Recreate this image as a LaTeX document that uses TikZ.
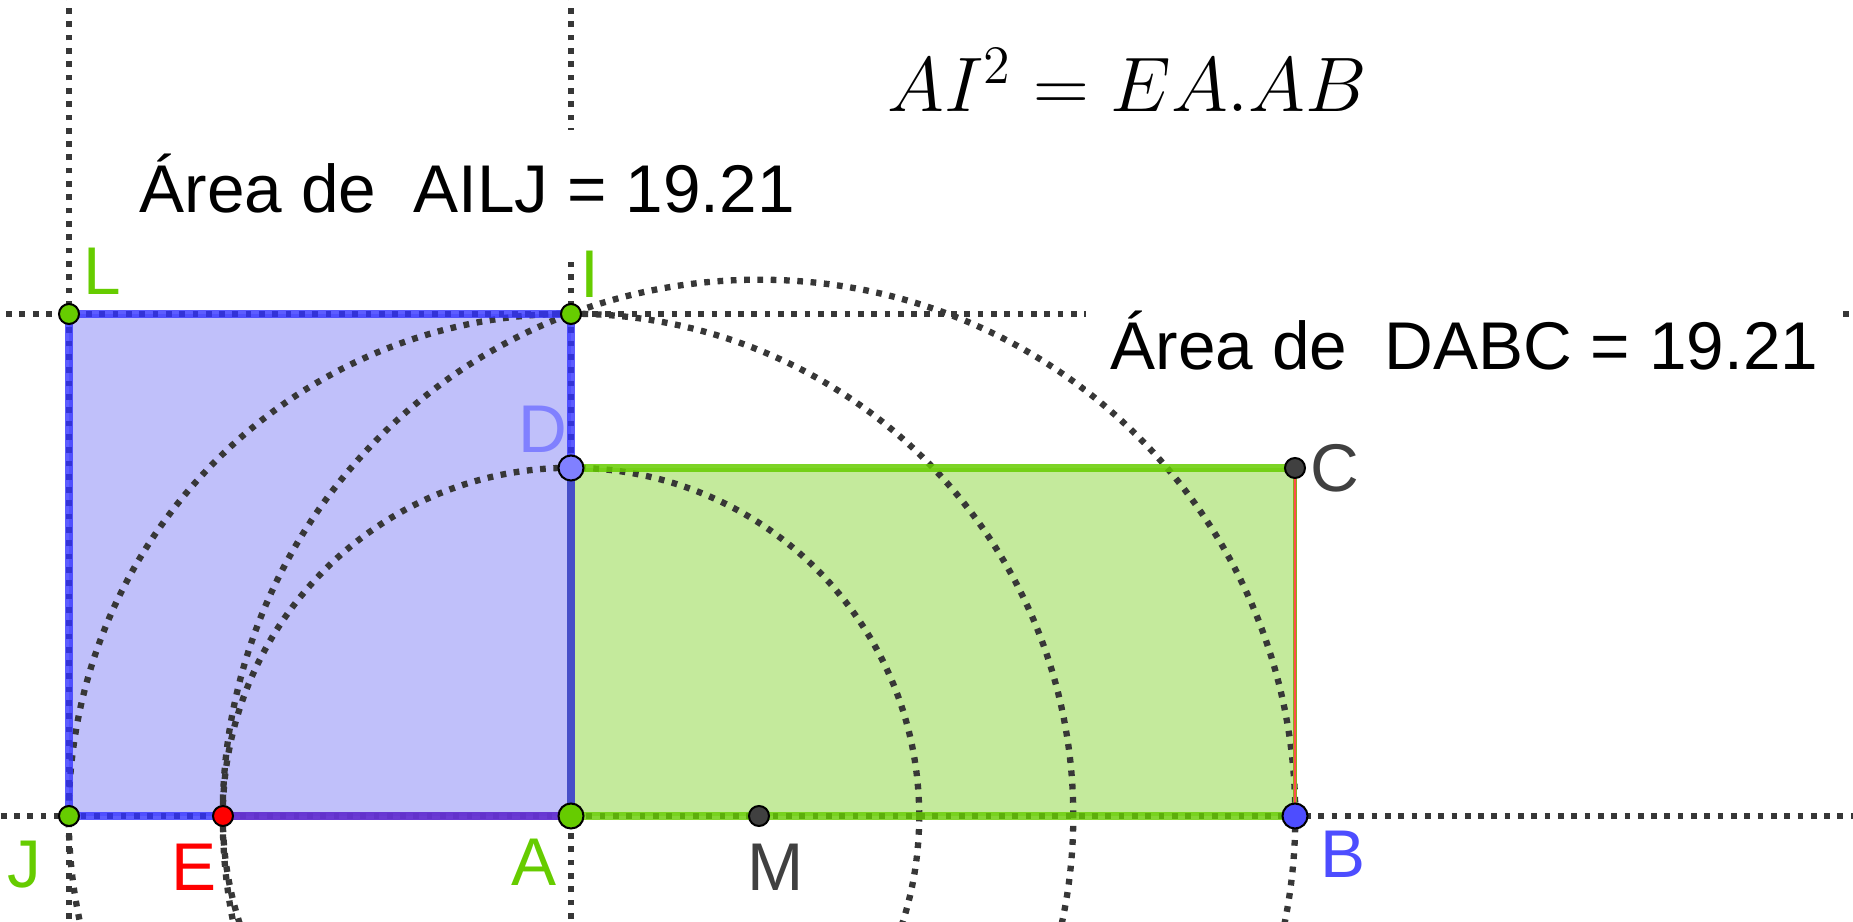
\RequirePackage{fix-cm}
\documentclass[tikz,border=0pt]{standalone}
\usepackage{fontspec}
\setmainfont{Liberation Sans}
\usepackage{xcolor}
\usetikzlibrary{calc}

\definecolor{ggreen}{RGB}{102,204,0}
\definecolor{gblue}{RGB}{77,77,255}
\definecolor{glightblue}{RGB}{128,128,255}
\definecolor{ggray}{RGB}{64,64,64}
\definecolor{auxgray}{RGB}{55,55,55}
\definecolor{sqfill}{RGB}{192,192,250}
\definecolor{sqedge}{RGB}{51,51,255}
\definecolor{rectfill}{RGB}{196,234,156}
\definecolor{eaedge}{RGB}{110,50,200}
\definecolor{daedge}{RGB}{70,78,200}

\begin{document}
\begin{tikzpicture}[x=0.01cm,y=-0.01cm,font=\fontsize{19.2}{23}\selectfont,
  aux/.style={auxgray,line width=0.063cm,dash pattern=on 0.057cm off 0.076cm},
  pt/.style={circle,draw=black,line width=0.02cm,inner sep=0pt,minimum size=0.2cm},
  bigpt/.style={pt,minimum size=0.25cm},
  lbl/.style={inner sep=0pt},
  areabox/.style={fill=white,inner ysep=0pt,inner xsep=0.25cm,text height=0.83cm,anchor=base west}]
  \useasboundingbox (0,0) rectangle (1853,922);
  % construction points
  \coordinate (A) at (571,816);
  \coordinate (I) at (571,314);
  \coordinate (L) at (69,314);
  \coordinate (J) at (69,816);
  \coordinate (D) at (571,468);
  \coordinate (E) at (223,816);
  \coordinate (B) at (1295,816);
  \coordinate (C) at (1295,468);
  \coordinate (M) at (759,816);
  % the two regions
  \fill[sqfill] (A) -- (I) -- (L) -- (J) -- cycle;
  \fill[rectfill] (D) -- (A) -- (B) -- (C) -- cycle;
  % auxiliary lines and circles
  \begin{scope}
    \clip (0,0) rectangle (1853,922);
    \draw[aux] ($(J)!-1!(B)$) -- ($(B)!-1!(J)$);
    \draw[aux] ($(L)!-1!(I)$) -- ($(I)!-4!(L)$);
    \draw[aux] ($(J)!-1!(L)$) -- ($(L)!-1!(J)$);
    \draw[aux] ($(A)!-1!(I)$) -- ($(I)!-1!(A)$);
    \draw[aux] (A) circle[radius=5.02cm];
    \draw[aux] (A) circle[radius=3.48cm];
    \draw[aux] (M) circle[radius=5.36cm];
  \end{scope}
  % texts
  \node[anchor=base west,font=\fontsize{22}{26}\selectfont] (eq) at (875,112) {$AI^2 = EA.AB$};
  \node[areabox,text depth=0.49cm] (areaSq) at (114,213) {Área de~ AILJ = 19.21};
  \node[areabox,text depth=0.2cm] (areaRect) at (1085,370) {Área de~ DABC = 19.21};
  % edges
  \draw[sqedge,line width=0.08cm,draw opacity=0.8] (L) -- (I) -- (A) -- (J) -- cycle;
  \draw[eaedge,line width=0.08cm,draw opacity=0.8] (E) -- (A);
  \draw[daedge,line width=0.08cm] (D) -- (A);
  \draw[ggreen,line width=0.08cm,draw opacity=0.85] (D) -- (C);
  \draw[ggreen,line width=0.08cm,draw opacity=0.8] (A) -- (B);
  \draw[ggreen!60!brown,line width=0.04cm] (C) -- (B);
  \draw[red!70,line width=0.012cm] (C) -- (B);
  % points
  \node[pt,fill=ggreen] (pL) at (L) {};
  \node[pt,fill=ggreen] (pI) at (I) {};
  \node[pt,fill=ggreen] (pJ) at (J) {};
  \node[bigpt,fill=ggreen] (pA) at (A) {};
  \node[bigpt,fill=glightblue] (pD) at (D) {};
  \node[bigpt,fill=gblue] (pB) at (B) {};
  \node[pt,fill=red] (pE) at (E) {};
  \node[pt,fill=ggray] (pM) at (M) {};
  \node[pt,fill=ggray] (pC) at (C) {};
  % labels
  \node[lbl,ggreen] (labL) at ($(L)+(33,-43)$) {L};
  \node[lbl,ggreen] (labI) at ($(I)+(19,-40)$) {I};
  \node[lbl,glightblue] (labD) at ($(D)+(-28,-39)$) {D};
  \node[lbl,ggray] (labC) at ($(C)+(40,0)$) {C};
  \node[lbl,gblue] (labB) at ($(B)+(48,38)$) {B};
  \node[lbl,ggreen] (labA) at ($(A)+(-37,46)$) {A};
  \node[lbl,ggray] (labM) at ($(M)+(17,51)$) {M};
  \node[lbl,red] (labE) at ($(E)+(-29,51)$) {E};
  \node[lbl,ggreen] (labJ) at ($(J)+(-45,49)$) {J};
\end{tikzpicture}
\end{document}
